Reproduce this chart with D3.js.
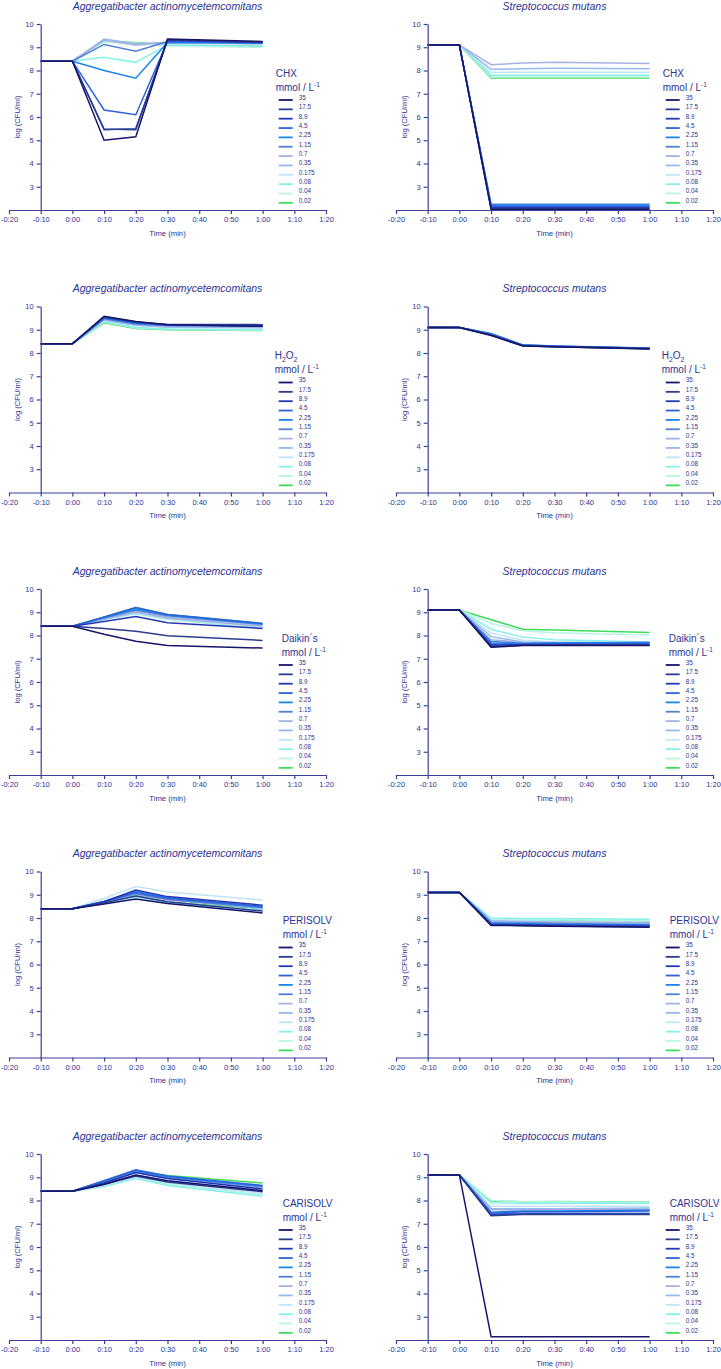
<!DOCTYPE html>
<html>
<head>
<meta charset="utf-8">
<script src="https://cdn.jsdelivr.net/npm/d3@7"></script>
<style>
  html, body { margin: 0; padding: 0; background: #fff; }
  svg { display: block; font-family: "Liberation Sans", Arial, sans-serif; }
</style>
</head>
<body>
<svg id="chart" width="721" height="1369"></svg>
<script>
// ---------------- data ----------------
const times = [-10, 0, 10, 20, 30, 60];
const xTicks = [-20, -10, 0, 10, 20, 30, 40, 50, 60, 70, 80];
const yTicks = [3, 4, 5, 6, 7, 8, 9, 10];
const concentrations = ["35", "17.5", "8.9", "4.5", "2.25", "1.15", "0.7", "0.35", "0.175", "0.08", "0.04", "0.02"];
const seriesColors = ["#16166b", "#2b3d8f", "#2438b4", "#2f62da", "#1b84ea", "#4f80d8",
                      "#a4b2e2", "#94b8f0", "#bfe3f7", "#86f0ea", "#b8f5e2", "#3fdc5a"];
const organisms = ["Aggregatibacter actinomycetemcomitans", "Streptococcus mutans"];
const treatments = ["CHX", "H2O2", "Daikin\u00b4s", "PERISOLV", "CARISOLV"];

const aaCHX = [
  [8.4, 8.4, 5.0, 5.15, 9.35, 9.25],
  [8.4, 8.4, 5.48, 5.45, 9.32, 9.22],
  [8.4, 8.4, 5.45, 5.5, 9.3, 9.2],
  [8.4, 8.4, 6.3, 6.1, 9.25, 9.2],
  [8.4, 8.4, 8.0, 7.67, 9.2, 9.18],
  [8.4, 8.4, 9.12, 8.83, 9.25, 9.2],
  [8.4, 8.4, 9.3, 9.1, 9.22, 9.15],
  [8.4, 8.4, 9.35, 9.15, 9.2, 9.2],
  [8.4, 8.4, 9.28, 9.1, 9.15, 9.1],
  [8.4, 8.4, 8.57, 8.35, 9.1, 9.05],
  [8.4, 8.4, 9.22, 9.18, 9.05, 9.0],
  [8.4, 8.4, 9.25, 9.2, 9.1, 9.05]
];
const smCHX = [
  [9.1, 9.1, 2.02, 2.02, 2.02, 2.02],
  [9.1, 9.1, 2.06, 2.06, 2.06, 2.06],
  [9.1, 9.1, 2.1, 2.1, 2.1, 2.1],
  [9.1, 9.1, 2.15, 2.15, 2.15, 2.15],
  [9.1, 9.1, 2.2, 2.2, 2.2, 2.2],
  [9.1, 9.1, 2.25, 2.25, 2.25, 2.25],
  [9.1, 9.1, 8.25, 8.32, 8.35, 8.3],
  [9.1, 9.1, 8.05, 8.08, 8.1, 8.08],
  [9.1, 9.1, 7.92, 7.92, 7.93, 7.92],
  [9.1, 9.1, 7.8, 7.8, 7.8, 7.8],
  [9.1, 9.1, 7.72, 7.72, 7.72, 7.72],
  [9.1, 9.1, 7.68, 7.68, 7.68, 7.68]
];
const aaH2O2 = [
  [8.4, 8.4, 9.58, 9.35, 9.22, 9.15],
  [8.4, 8.4, 9.56, 9.33, 9.23, 9.22],
  [8.4, 8.4, 9.55, 9.32, 9.22, 9.2],
  [8.4, 8.4, 9.52, 9.3, 9.2, 9.18],
  [8.4, 8.4, 9.5, 9.28, 9.2, 9.18],
  [8.4, 8.4, 9.47, 9.25, 9.18, 9.15],
  [8.4, 8.4, 9.45, 9.22, 9.15, 9.12],
  [8.4, 8.4, 9.42, 9.2, 9.12, 9.1],
  [8.4, 8.4, 9.4, 9.17, 9.1, 9.07],
  [8.4, 8.4, 9.35, 9.1, 9.03, 9.0],
  [8.4, 8.4, 9.33, 9.08, 9.02, 8.98],
  [8.4, 8.4, 9.3, 9.05, 9.0, 8.97]
];
const smH2O2 = [
  [9.1, 9.1, 8.75, 8.3, 8.27, 8.17],
  [9.1, 9.1, 8.77, 8.31, 8.27, 8.18],
  [9.1, 9.1, 8.78, 8.32, 8.28, 8.19],
  [9.1, 9.1, 8.8, 8.33, 8.28, 8.2],
  [9.1, 9.1, 8.82, 8.34, 8.29, 8.2],
  [9.1, 9.1, 8.84, 8.35, 8.3, 8.21],
  [9.1, 9.1, 8.83, 8.34, 8.3, 8.2],
  [9.1, 9.1, 8.82, 8.33, 8.29, 8.2],
  [9.1, 9.1, 8.8, 8.32, 8.28, 8.19],
  [9.1, 9.1, 8.8, 8.32, 8.28, 8.19],
  [9.1, 9.1, 8.79, 8.31, 8.27, 8.18],
  [9.1, 9.1, 8.78, 8.31, 8.27, 8.18]
];
const aaDaikin = [
  [8.4, 8.4, 8.05, 7.75, 7.57, 7.46],
  [8.4, 8.4, 8.3, 8.18, 7.99, 7.79],
  [8.4, 8.4, 8.6, 8.82, 8.55, 8.3],
  [8.4, 8.4, 8.8, 9.2, 8.9, 8.52],
  [8.4, 8.4, 8.78, 9.15, 8.88, 8.5],
  [8.4, 8.4, 8.75, 9.1, 8.85, 8.48],
  [8.4, 8.4, 8.7, 9.0, 8.75, 8.4],
  [8.4, 8.4, 8.72, 9.05, 8.8, 8.45],
  [8.4, 8.4, 8.7, 8.98, 8.72, 8.35],
  [8.4, 8.4, 8.7, 8.95, 8.7, 8.32],
  [8.4, 8.4, 8.68, 8.95, 8.7, 8.3],
  [8.4, 8.4, 8.8, 9.2, 8.9, 8.52]
];
const smDaikin = [
  [9.1, 9.1, 7.5, 7.57, 7.57, 7.57],
  [9.1, 9.1, 7.52, 7.58, 7.6, 7.6],
  [9.1, 9.1, 7.58, 7.6, 7.6, 7.6],
  [9.1, 9.1, 7.62, 7.62, 7.64, 7.66],
  [9.1, 9.1, 7.68, 7.65, 7.68, 7.7],
  [9.1, 9.1, 7.74, 7.67, 7.68, 7.7],
  [9.1, 9.1, 7.82, 7.7, 7.68, 7.68],
  [9.1, 9.1, 7.95, 7.72, 7.7, 7.7],
  [9.1, 9.1, 8.1, 7.8, 7.72, 7.7],
  [9.1, 9.1, 8.27, 7.93, 7.82, 7.72],
  [9.1, 9.1, 8.52, 8.2, 8.12, 8.02],
  [9.1, 9.1, 8.68, 8.27, 8.24, 8.13]
];
const aaPerisolv = [
  [8.4, 8.4, 8.6, 8.82, 8.62, 8.22],
  [8.4, 8.4, 8.65, 8.95, 8.7, 8.3],
  [8.4, 8.4, 8.7, 9.2, 8.92, 8.55],
  [8.4, 8.4, 8.7, 9.1, 8.85, 8.5],
  [8.4, 8.4, 8.72, 9.15, 8.88, 8.48],
  [8.4, 8.4, 8.7, 9.05, 8.8, 8.45],
  [8.4, 8.4, 8.68, 9.0, 8.78, 8.4],
  [8.4, 8.4, 8.7, 9.05, 8.82, 8.45],
  [8.4, 8.4, 8.85, 9.35, 9.12, 8.77],
  [8.4, 8.4, 8.65, 8.92, 8.65, 8.35],
  [8.4, 8.4, 8.65, 8.9, 8.65, 8.32],
  [8.4, 8.4, 8.66, 8.95, 8.68, 8.4]
];
const smPerisolv = [
  [9.1, 9.1, 7.68, 7.67, 7.65, 7.6],
  [9.1, 9.1, 7.7, 7.68, 7.66, 7.62],
  [9.1, 9.1, 7.72, 7.7, 7.68, 7.65],
  [9.1, 9.1, 7.75, 7.72, 7.7, 7.68],
  [9.1, 9.1, 7.78, 7.75, 7.72, 7.7],
  [9.1, 9.1, 7.8, 7.78, 7.76, 7.72],
  [9.1, 9.1, 7.85, 7.82, 7.8, 7.78],
  [9.1, 9.1, 7.88, 7.85, 7.83, 7.8],
  [9.1, 9.1, 7.9, 7.88, 7.86, 7.83],
  [9.1, 9.1, 8.0, 7.98, 7.98, 7.95],
  [9.1, 9.1, 7.95, 7.93, 7.92, 7.9],
  [9.1, 9.1, 7.92, 7.9, 7.88, 7.85]
];
const aaCarisolv = [
  [8.4, 8.4, 8.7, 9.1, 8.85, 8.42],
  [8.4, 8.4, 8.7, 9.05, 8.8, 8.38],
  [8.4, 8.4, 8.75, 9.2, 8.95, 8.5],
  [8.4, 8.4, 8.85, 9.32, 9.05, 8.65],
  [8.4, 8.4, 8.85, 9.3, 9.02, 8.62],
  [8.4, 8.4, 8.8, 9.25, 9.0, 8.6],
  [8.4, 8.4, 8.75, 9.2, 8.95, 8.55],
  [8.4, 8.4, 8.7, 9.1, 8.85, 8.45],
  [8.4, 8.4, 8.65, 9.0, 8.75, 8.3],
  [8.4, 8.4, 8.6, 8.95, 8.65, 8.18],
  [8.4, 8.4, 8.62, 8.98, 8.7, 8.25],
  [8.4, 8.4, 8.82, 9.28, 9.08, 8.75]
];
const smCarisolv = [
  [9.1, 9.1, 2.14, 2.14, 2.14, 2.14],
  [9.1, 9.1, 7.35, 7.4, 7.4, 7.4],
  [9.1, 9.1, 7.38, 7.42, 7.42, 7.42],
  [9.1, 9.1, 7.45, 7.52, 7.52, 7.55],
  [9.1, 9.1, 7.5, 7.55, 7.55, 7.58],
  [9.1, 9.1, 7.42, 7.45, 7.45, 7.45],
  [9.1, 9.1, 7.6, 7.6, 7.6, 7.62],
  [9.1, 9.1, 7.65, 7.65, 7.65, 7.68],
  [9.1, 9.1, 7.75, 7.75, 7.75, 7.75],
  [9.1, 9.1, 7.9, 7.88, 7.88, 7.88],
  [9.1, 9.1, 8.0, 7.95, 7.95, 7.92],
  [9.1, 9.1, 7.98, 7.95, 7.96, 7.93]
];

const panelData = [
  [aaCHX, smCHX],
  [aaH2O2, smH2O2],
  [aaDaikin, smDaikin],
  [aaPerisolv, smPerisolv],
  [aaCarisolv, smCarisolv]
];

// ---------------- layout ----------------
const textColor = "#2d3393";
const axisColor = "#3b3f99";
const rowTop0 = 24, rowStep = 282.5, plotH = 186;
const colX0 = [9, 396], axisW = 317;
const legendTitleOffset = [235, 234, 241, 242, 242];

const svg = d3.select("#chart");

function fmtTime(t) {
  const neg = t < 0;
  const a = Math.abs(t);
  const h = Math.floor(a / 60), m = a % 60;
  return (neg ? "-" : "") + h + ":" + String(m).padStart(2, "0");
}

panelData.forEach((rowData, r) => {
  rowData.forEach((series, c) => {
    const top = rowTop0 + r * rowStep;
    const x = d3.scaleLinear().domain([-20, 80]).range([colX0[c], colX0[c] + axisW]);
    const y = d3.scaleLinear().domain([2, 10]).range([top + plotH, top]);
    const yAxisX = x(-10);
    const g = svg.append("g");

    // lines (lowest concentration first so darker ones sit on top)
    const line = d3.line().x((d, i) => x(times[i])).y(d => y(d));
    for (let s = series.length - 1; s >= 0; s--) {
      g.append("path")
        .attr("d", line(series[s]))
        .attr("fill", "none")
        .attr("stroke", seriesColors[s])
        .attr("stroke-width", 1.5)
        .attr("stroke-linejoin", "miter");
    }

    // x axis
    const xa = g.append("g")
      .attr("transform", `translate(0,${y(2)})`)
      .call(d3.axisBottom(x).tickValues(xTicks).tickFormat(fmtTime).tickSize(4).tickSizeOuter(0));
    // y axis
    const ya = g.append("g")
      .attr("transform", `translate(${yAxisX},0)`)
      .call(d3.axisLeft(y).tickValues(yTicks).tickFormat(d3.format("d")).tickSize(4).tickSizeOuter(0));
    [xa, ya].forEach(a => {
      a.selectAll("path.domain").attr("stroke", axisColor).attr("stroke-width", 1.2);
      a.selectAll(".tick line").attr("stroke", axisColor).attr("stroke-width", 1.2);
      a.selectAll(".tick text").attr("fill", textColor)
        .style("font-size", "7.5px").style("font-family", "'Liberation Sans', Arial, sans-serif");
    });

    // axis titles
    g.append("text")
      .attr("x", (x(-20) + x(80)) / 2)
      .attr("y", top + plotH + 25.5)
      .attr("text-anchor", "middle")
      .attr("fill", textColor)
      .style("font-size", "7.7px")
      .text("Time (min)");
    g.append("text")
      .attr("transform", `translate(${yAxisX - 20.5},${top + plotH / 2}) rotate(-90)`)
      .attr("text-anchor", "middle")
      .attr("fill", textColor)
      .style("font-size", "7.6px")
      .text("log (CFU/ml)");

    // panel title
    g.append("text")
      .attr("x", (x(-20) + x(80)) / 2)
      .attr("y", top - 14.3)
      .attr("text-anchor", "middle")
      .attr("fill", textColor)
      .style("font-size", "10.5px")
      .style("font-style", "italic")
      .text(organisms[c]);

    // legend
    const lx = yAxisX + legendTitleOffset[r];
    const tt = g.append("text")
      .attr("x", lx).attr("y", top + 52.6)
      .attr("fill", textColor)
      .style("font-size", "10px");
    const tname = treatments[r];
    if (tname === "H2O2") {
      tt.append("tspan").text("H");
      tt.append("tspan").attr("dy", 2.5).style("font-size", "7px").text("2");
      tt.append("tspan").attr("dy", -2.5).text("O");
      tt.append("tspan").attr("dy", 2.5).style("font-size", "7px").text("2");
    } else {
      tt.text(tname);
    }
    const mt = g.append("text")
      .attr("x", lx).attr("y", top + 66.6)
      .attr("fill", textColor)
      .style("font-size", "10px");
    mt.append("tspan").text("mmol / L");
    mt.append("tspan").attr("dy", -4).style("font-size", "6.5px").text("-1");

    concentrations.forEach((lab, i) => {
      const ly = top + 76 + i * 9.35;
      g.append("line")
        .attr("x1", yAxisX + 238).attr("x2", yAxisX + 252)
        .attr("y1", ly).attr("y2", ly)
        .attr("stroke", seriesColors[i]).attr("stroke-width", 1.8);
      g.append("text")
        .attr("x", yAxisX + 258).attr("y", ly - 0.2)
        .attr("fill", textColor)
        .style("font-size", "6.3px")
        .text(lab);
    });
  });
});
</script>
</body>
</html>
